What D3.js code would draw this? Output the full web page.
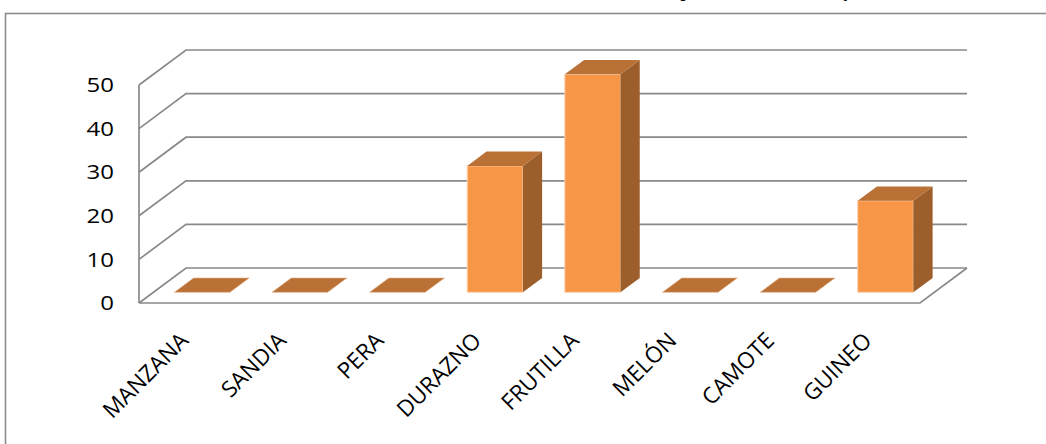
<!DOCTYPE html>
<html>
<head>
<meta charset="utf-8">
<script src="https://cdn.jsdelivr.net/npm/d3@7"></script>
<style>
  html, body { margin: 0; padding: 0; background: #fff; overflow: hidden; }
  svg { display: block; }
</style>
</head>
<body>
<svg id="chart" width="1046" height="444"></svg>
<script>
// Fruit preference (percent of answers)
const categories = ["MANZANA", "SANDIA", "PERA", "DURAZNO", "FRUTILLA", "MELÓN", "CAMOTE", "GUINEO"];
const values = [0, 0, 0, 29, 50, 0, 0, 21];
const yTicks = [0, 10, 20, 30, 40, 50];
const titleText = "Frutas compradas en el mercado y la tienda";

const svg = d3.select("#chart");

// Front plane of the 3-D box
const plot = { left: 139, right: 920, top: 85, bottom: 303 };
// Depth vector (front plane -> back wall)
const depth = { dx: 47, dy: 35 };
// Bars sit in the middle of the depth
const barDepth = { t0: 0.305, t1: 0.715 };

const x = d3.scaleBand()
  .domain(categories)
  .range([plot.left, plot.right])
  .paddingInner(0.43)
  .paddingOuter(0.215);

const y = d3.scaleLinear()
  .domain([0, 50])
  .range([plot.bottom, plot.top]);

const proj = (px, py, t) => [px + depth.dx * t, py - depth.dy * t];

const gridColor = "#898989";

// Chart frame
svg.append("rect")
  .attr("x", 5.5).attr("y", 13.5)
  .attr("width", 1200).attr("height", 600)
  .attr("fill", "none")
  .attr("stroke", "#8c8c8c")
  .attr("stroke-width", 1.6);

// Title, running above the top edge of the frame
svg.append("text")
  .attr("x", 596)
  .attr("y", -2.6)
  .attr("font-family", "'Liberation Serif', serif")
  .attr("font-weight", "bold")
  .attr("font-size", 17.4)
  .attr("fill", "#000")
  .text(titleText);

const grid = svg.append("g")
  .attr("fill", "none")
  .attr("stroke", gridColor)
  .attr("stroke-width", 1.7);

// Back wall gridlines and left wall diagonals
yTicks.forEach(v => {
  const a = proj(plot.left, y(v), 0);
  const b = proj(plot.left, y(v), 1);
  const c = proj(plot.right, y(v), 1);
  grid.append("path").attr("d", d3.line()([a, b, c]));
});

// Left wall front edge
grid.append("line")
  .attr("x1", plot.left).attr("x2", plot.left)
  .attr("y1", y(50)).attr("y2", y(0));

// Floor front and right edges
{
  const a = proj(plot.left, y(0), 0);
  const b = proj(plot.right, y(0), 0);
  const c = proj(plot.right, y(0), 1);
  grid.append("path").attr("d", d3.line()([a, b, c]));
}

// Bars
const colFront = "#F79646", colTop = "#BA7136", colSide = "#9C5E2B";
const bars = svg.append("g");
const bw = x.bandwidth();
const ddx = depth.dx * (barDepth.t1 - barDepth.t0);
const ddy = depth.dy * (barDepth.t1 - barDepth.t0);

categories.forEach((c, i) => {
  const v = values[i];
  const [x0, yTop] = proj(x(c), y(v), barDepth.t0);
  const [, yBot] = proj(x(c), y(0), barDepth.t0);
  const x1 = x0 + bw;
  const g = bars.append("g");
  if (v > 0) {
    g.append("polygon")
      .attr("points", [[x0, yTop], [x1, yTop], [x1, yBot], [x0, yBot]].join(" "))
      .attr("fill", colFront)
      .attr("stroke", "#fbd2b0")
      .attr("stroke-width", 1);
    g.append("polygon")
      .attr("points", [[x1, yTop], [x1 + ddx, yTop - ddy], [x1 + ddx, yBot - ddy], [x1, yBot]].join(" "))
      .attr("fill", colSide);
  }
  g.append("polygon")
    .attr("points", [[x0, yTop], [x1, yTop], [x1 + ddx, yTop - ddy], [x0 + ddx, yTop - ddy]].join(" "))
    .attr("fill", colTop)
    .attr("stroke", v > 0 ? "none" : "#e6b48c")
    .attr("stroke-width", 0.6);
});

// Y axis labels (slightly widened face)
svg.append("g")
  .selectAll("text")
  .data(yTicks)
  .join("text")
  .attr("transform", d => `translate(114,${y(d)}) scale(1.2,1)`)
  .attr("dy", "0.36em")
  .attr("text-anchor", "end")
  .attr("font-family", "'Open Sans', sans-serif")
  .attr("font-size", 20)
  .attr("fill", "#000")
  .text(d => d);

// Category labels, rotated
svg.append("g")
  .selectAll("text")
  .data(categories)
  .join("text")
  .attr("transform", d => `translate(${x(d) + bw / 2 + 2},342) rotate(-45)`)
  .attr("text-anchor", "end")
  .attr("font-family", "'Open Sans', sans-serif")
  .attr("font-size", 22.5)
  .attr("fill", "#000")
  .text(d => d);
</script>
</body>
</html>
